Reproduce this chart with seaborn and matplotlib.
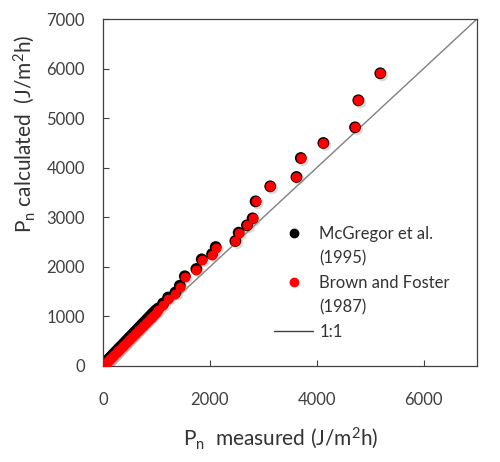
import matplotlib
matplotlib.use("Agg")
import matplotlib.pyplot as plt
import matplotlib.patheffects as pe
from matplotlib.lines import Line2D
import seaborn as sns
import pandas as pd

# ---- data ----
brown_x = [15, 30, 45, 60, 80, 95, 110, 130, 150, 170, 190, 210, 235, 255, 280, 300,
           325, 350, 375, 400, 425, 450, 480, 505, 535, 560, 590, 620, 650, 680, 710,
           740, 770, 800, 830, 860, 890, 920, 950, 985, 1032, 1124, 1219, 1356, 1437,
           1531, 1747, 1848, 2041, 2109, 2477, 2539, 2694, 2800, 2856, 3130, 3621,
           3702, 4125, 4717, 4779, 5190]
brown_y = [16, 33, 48, 66, 86, 103, 118, 141, 162, 183, 206, 226, 254, 276, 302, 325,
           350, 379, 404, 432, 460, 486, 520, 544, 578, 605, 638, 668, 702, 735, 768,
           800, 832, 865, 896, 930, 962, 995, 1027, 1065, 1130, 1231, 1352, 1459, 1594,
           1789, 1937, 2132, 2239, 2386, 2522, 2690, 2838, 2979, 3322, 3625, 3813,
           4196, 4499, 4815, 5360, 5905]
mcg_x = [15, 30, 45, 60, 80, 95, 110, 130, 150, 170, 190, 210, 235, 255, 280, 300,
         325, 350, 375, 400, 425, 450, 480, 505, 535, 560, 590, 620, 650, 680, 710,
         740, 770, 800, 830, 860, 890, 920, 950, 985, 1032, 1124, 1219, 1356, 1437,
         1531, 1747, 1848, 2041, 2109, 2477, 2539, 2694, 2800, 2856, 3130, 3621,
         3702, 4125, 4717, 4779, 5190]
mcg_y = [30, 48, 64, 83, 105, 122, 138, 162, 184, 206, 230, 251, 280, 302, 330, 354,
         380, 408, 434, 463, 492, 519, 555, 580, 616, 644, 677, 709, 744, 778, 812,
         845, 878, 912, 944, 979, 1012, 1046, 1079, 1118, 1160, 1262, 1382, 1485,
         1620, 1810, 1957, 2152, 2258, 2400, 2522, 2690, 2838, 2979, 3322, 3625,
         3813, 4196, 4499, 4815, 5360, 5905]
labels = ["McGregor et al.", "(1995)", "Brown and Foster", "(1987)", "1:1"]
ticks_x = [0, 2000, 4000, 6000]
ticks_y = [0, 1000, 2000, 3000, 4000, 5000, 6000, 7000]

sns.set_theme(style="white")
plt.rcParams["font.family"] = ["Lato", "DejaVu Sans"]
plt.rcParams["mathtext.default"] = "regular"

fig = plt.figure(figsize=(5.0, 4.62), dpi=100)
ax = fig.add_axes([103 / 500, (462 - 366) / 462, 374 / 500, 347 / 462])

shadow = [pe.SimplePatchShadow(offset=(1.5, -1.5), shadow_rgbFace="#999999", alpha=0.35), pe.Normal()]

ax.plot([0, 7000], [0, 7000], color="#808080", lw=1.0, zorder=1)
df_m = pd.DataFrame({"x": mcg_x, "y": mcg_y})
df_b = pd.DataFrame({"x": brown_x, "y": brown_y})
sns.scatterplot(data=df_m, x="x", y="y", ax=ax, color="black", s=72,
                linewidth=0, zorder=2)
ax.collections[-1].set_path_effects(shadow)
sns.scatterplot(data=df_b, x="x", y="y", ax=ax, color="#ff0000", s=50,
                linewidth=0, zorder=3)

ax.set_xlim(0, 7000)
ax.set_ylim(0, 7000)
ax.set_xticks(ticks_x)
ax.set_yticks(ticks_y)
ax.tick_params(direction="in", length=4.5, width=0.8, color="#404040",
               labelsize=12, labelcolor="#404040", bottom=True, left=True)
ax.tick_params(axis="x", pad=19)
ax.tick_params(axis="y", pad=13)
for sp in ax.spines.values():
    sp.set_color("#404040")
    sp.set_linewidth(0.9)

ax.set_xlabel("P$_n$  measured (J/m$^2$h)", fontsize=15, color="#333333")
ax.set_ylabel("P$_n$ calculated  (J/m$^2$h)", fontsize=15, color="#333333")
ax.xaxis.set_label_coords(0.476, -0.172)
ax.yaxis.set_label_coords(-0.176, 0.67)

blank = Line2D([], [], linestyle="none", marker=None)
handles = [
    Line2D([], [], linestyle="none", marker="o", color="black", markersize=6),
    blank,
    Line2D([], [], linestyle="none", marker="o", color="#ff0000", markersize=6),
    blank,
    Line2D([], [], color="#404040", lw=1.0),
]
leg = ax.legend(handles, labels, loc="upper left",
                bbox_to_anchor=((266 - 103) / 374, (366 - 218) / 347),
                frameon=False, fontsize=12, handlelength=2.3,
                handletextpad=0.4, labelspacing=0.5, borderpad=0)
for t in leg.get_texts():
    t.set_color("#333333")

fig.savefig("out.png", dpi=100)
